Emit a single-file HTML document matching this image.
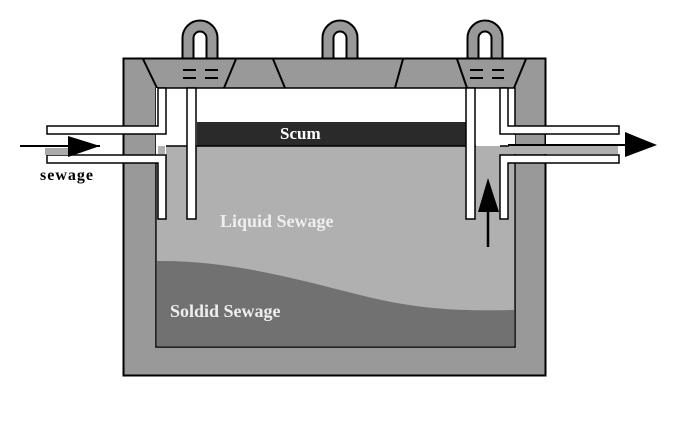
<!DOCTYPE html>
<html><head><style>body{margin:0;background:#fff}svg{display:block}</style></head><body>
<svg width="688" height="426" viewBox="0 0 688 426" xmlns="http://www.w3.org/2000/svg" font-family="Liberation Serif, serif" font-weight="bold">
<g fill="none" stroke="#000" stroke-width="13"><path d="M188 60 V38 a12 12 0 0 1 24 0 V60"/><path d="M328 60 V38 a12 12 0 0 1 24 0 V60"/><path d="M473 60 V38 a12 12 0 0 1 24 0 V60"/></g>
<g fill="none" stroke="#999" stroke-width="9"><path d="M188 60 V38 a12 12 0 0 1 24 0 V60"/><path d="M328 60 V38 a12 12 0 0 1 24 0 V60"/><path d="M473 60 V38 a12 12 0 0 1 24 0 V60"/></g>
<rect x="123.5" y="58.5" width="422" height="317" fill="#999" stroke="#000" stroke-width="2"/>
<rect x="156" y="88" width="359" height="259" fill="#fff" stroke="#000" stroke-width="1.5"/>
<rect x="157" y="146" width="357" height="200" fill="#b0b0b0"/>
<path d="M157 261 C230 260 300 280 360 295 C420 310 460 311 514 310 V346 H157 Z" fill="#717171"/>
<rect x="197" y="122" width="270" height="24" fill="#2a2a2a"/>
<line x1="157" y1="146" x2="514" y2="146" stroke="#000" stroke-width="1.5"/>
<g stroke="#000" stroke-width="2"><line x1="143" y1="59" x2="157" y2="88"/><line x1="236" y1="59" x2="224" y2="88"/><line x1="273" y1="59" x2="285" y2="88"/><line x1="403" y1="59" x2="395" y2="88"/><line x1="457" y1="59" x2="467" y2="88"/><line x1="526" y1="59" x2="514" y2="88"/>
<line x1="183" y1="70" x2="196" y2="70"/><line x1="183" y1="78" x2="196" y2="78"/><line x1="205" y1="70" x2="218" y2="70"/><line x1="205" y1="78" x2="218" y2="78"/>
<line x1="470" y1="70" x2="483" y2="70"/><line x1="470" y1="78" x2="483" y2="78"/><line x1="492" y1="70" x2="504" y2="70"/><line x1="492" y1="78" x2="504" y2="78"/></g>
<rect x="156" y="88" width="10" height="70" fill="#fff"/>
<g fill="#fff" stroke="#000" stroke-width="1.5">
<path d="M47 126 H158 V88 H166 V134 H47 Z"/>
<path d="M47 155 H166 V219 H158 V163 H47 Z"/>
<rect x="187" y="88" width="9" height="131"/>
<rect x="466" y="88" width="9" height="131"/>
<path d="M500 88 H508 V126 H619 V134 H500 Z"/>
<path d="M500 219 V155 H619 V163 H508 V219 Z"/>
</g>
<rect x="158" y="135" width="7" height="19" fill="#fff"/>
<rect x="158" y="146" width="7" height="8" fill="#b0b0b0"/>
<rect x="546" y="135" width="72" height="11" fill="#fff"/>
<rect x="509" y="135" width="6" height="11" fill="#fff"/>
<rect x="509" y="146" width="109" height="8" fill="#b0b0b0"/>
<rect x="476" y="135" width="24" height="11" fill="#fff"/>
<rect x="476" y="146" width="24" height="8" fill="#b0b0b0"/>
<rect x="45" y="148" width="25" height="7" fill="#aaa"/>
<line x1="20" y1="146" x2="100" y2="146" stroke="#000" stroke-width="2"/>
<polygon points="68,136 100,146 68,157" fill="#000"/>
<line x1="508" y1="145" x2="626" y2="145" stroke="#000" stroke-width="2"/>
<polygon points="625,132 657,145 625,157" fill="#000"/>
<line x1="488" y1="247" x2="488" y2="205" stroke="#000" stroke-width="2.5"/>
<polygon points="488,178 478,212 499,212" fill="#000"/>
<text x="280" y="139" fill="#fff" font-size="17">Scum</text>
<text x="220" y="227" fill="#eee" font-size="18">Liquid Sewage</text>
<text x="170" y="317" fill="#eee" font-size="18">Soldid Sewage</text>
<text x="40" y="180" fill="#000" font-size="16" letter-spacing="1">sewage</text>
</svg>
</body></html>
